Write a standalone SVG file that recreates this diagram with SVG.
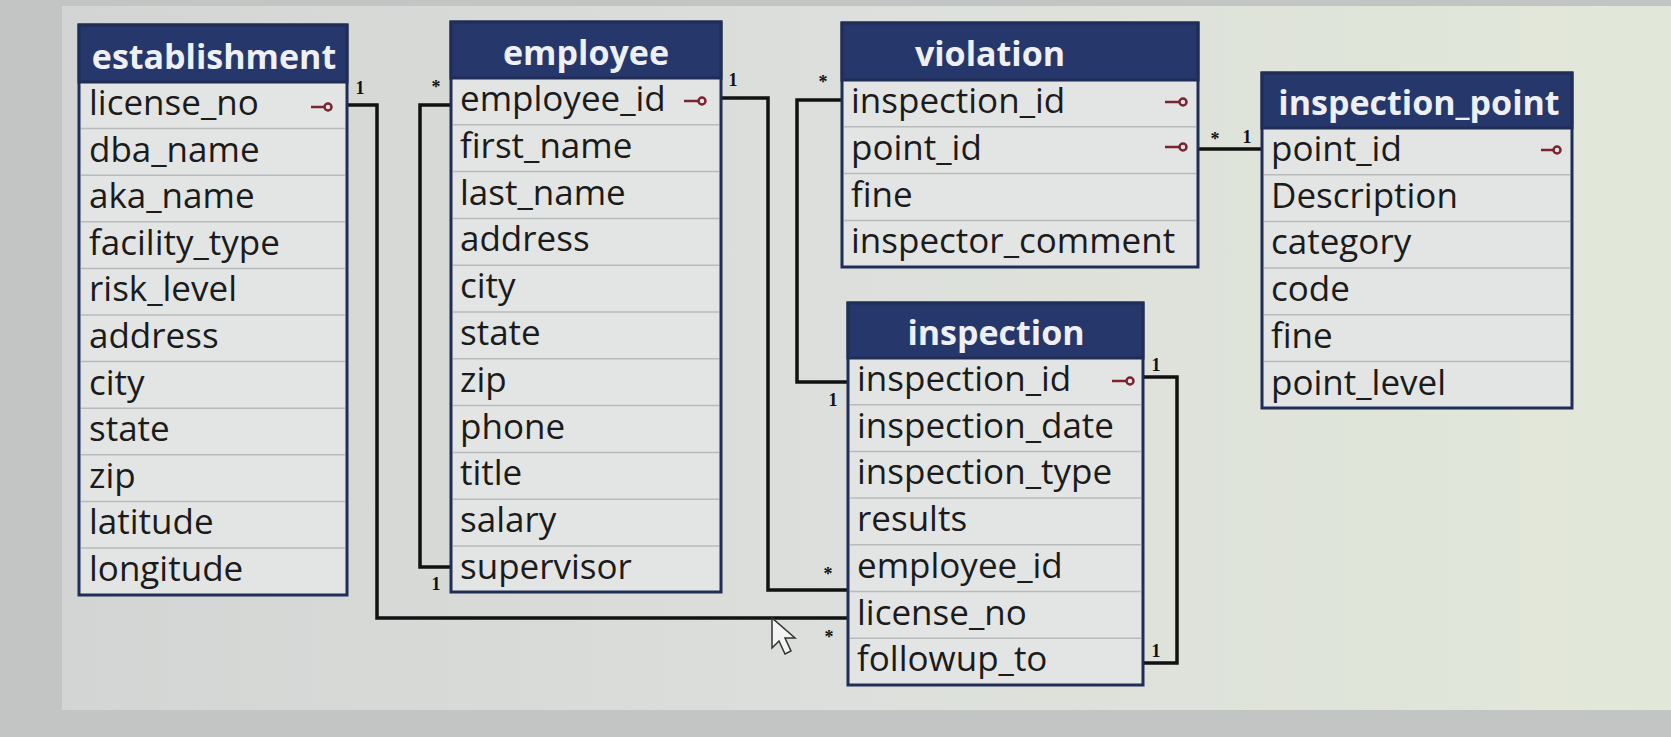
<svg xmlns="http://www.w3.org/2000/svg" width="1671" height="737" viewBox="0 0 1671 737">
<defs>
<linearGradient id="bg" x1="0" y1="0" x2="1" y2="0">
<stop offset="0" stop-color="#d3d5d4"/>
<stop offset="0.5" stop-color="#dcdfdb"/>
<stop offset="1" stop-color="#e2e8d9"/>
</linearGradient>
<style>
.body{fill:#e3e5e4;stroke:#1f2d57;stroke-width:3}
.head{fill:#26376b;stroke:#1f2d57;stroke-width:3}
.ht{font-family:"Open Sans","Noto Sans",sans-serif;font-weight:bold;font-size:34px;fill:#eef0f5;text-anchor:middle}
.rt{font-family:"Open Sans","Noto Sans",sans-serif;font-size:35px;fill:#1b1b1b}
.sep{stroke:#b7bbbb;stroke-width:1.5}
.key{stroke:#7b2331;stroke-width:2.5;fill:none}
.conn{fill:none;stroke:#111;stroke-width:3.5}
.card{font-family:"Liberation Serif",serif;font-weight:bold;font-size:18px;fill:#111;text-anchor:middle}
</style>
</defs>
<rect x="0" y="0" width="1671" height="737" fill="#c3c5c4"/>
<rect x="62" y="6" width="1609" height="704" fill="url(#bg)"/>

<g id="connectors">
<polyline class="conn" points="347,105 377,105 377,618 848,618"/>
<text class="card" x="360" y="94">1</text>
<text class="card" x="829" y="643">*</text>
<polyline class="conn" points="451,105 420,105 420,567 451,567"/>
<text class="card" x="436" y="93">*</text>
<text class="card" x="436" y="590">1</text>
<polyline class="conn" points="721,98 768,98 768,590 848,590"/>
<text class="card" x="733" y="86">1</text>
<text class="card" x="828" y="580">*</text>
<polyline class="conn" points="842,100 797,100 797,382 848,382"/>
<text class="card" x="823" y="88">*</text>
<text class="card" x="833" y="406">1</text>
<line class="conn" x1="1198" y1="149" x2="1262" y2="149"/>
<text class="card" x="1215" y="145">*</text>
<text class="card" x="1247" y="143">1</text>
<polyline class="conn" points="1143,377 1177,377 1177,663 1143,663"/>
<text class="card" x="1156" y="371">1</text>
<text class="card" x="1156" y="657">1</text>
</g>

<g id="establishment">
<rect class="body" x="79" y="25" width="268" height="570"/>
<rect class="head" x="79" y="25" width="268" height="57"/>
<text class="ht" x="214" y="69">establishment</text>
<g class="sep">
<line x1="81" y1="128.6" x2="345" y2="128.6"/><line x1="81" y1="175.2" x2="345" y2="175.2"/><line x1="81" y1="221.8" x2="345" y2="221.8"/><line x1="81" y1="268.4" x2="345" y2="268.4"/><line x1="81" y1="315" x2="345" y2="315"/><line x1="81" y1="361.6" x2="345" y2="361.6"/><line x1="81" y1="408.2" x2="345" y2="408.2"/><line x1="81" y1="454.8" x2="345" y2="454.8"/><line x1="81" y1="501.4" x2="345" y2="501.4"/><line x1="81" y1="548" x2="345" y2="548"/>
</g>
<text class="rt" x="89" y="115">license_no</text>
<text class="rt" x="89" y="161.6">dba_name</text>
<text class="rt" x="89" y="208.2">aka_name</text>
<text class="rt" x="89" y="254.8">facility_type</text>
<text class="rt" x="89" y="301.4">risk_level</text>
<text class="rt" x="89" y="348">address</text>
<text class="rt" x="89" y="394.6">city</text>
<text class="rt" x="89" y="441.2">state</text>
<text class="rt" x="89" y="487.8">zip</text>
<text class="rt" x="89" y="534.4">latitude</text>
<text class="rt" x="89" y="581">longitude</text>
<g class="key"><line x1="311" y1="107" x2="324" y2="107"/><circle cx="328" cy="107" r="3.5"/></g>
</g>

<g id="employee">
<rect class="body" x="451" y="22" width="270" height="570"/>
<rect class="head" x="451" y="22" width="270" height="56"/>
<text class="ht" x="586" y="65">employee</text>
<g class="sep">
<line x1="453" y1="124.8" x2="719" y2="124.8"/><line x1="453" y1="171.6" x2="719" y2="171.6"/><line x1="453" y1="218.4" x2="719" y2="218.4"/><line x1="453" y1="265.2" x2="719" y2="265.2"/><line x1="453" y1="312" x2="719" y2="312"/><line x1="453" y1="358.8" x2="719" y2="358.8"/><line x1="453" y1="405.6" x2="719" y2="405.6"/><line x1="453" y1="452.4" x2="719" y2="452.4"/><line x1="453" y1="499.2" x2="719" y2="499.2"/><line x1="453" y1="546" x2="719" y2="546"/>
</g>
<text class="rt" x="460" y="111">employee_id</text>
<text class="rt" x="460" y="157.8">first_name</text>
<text class="rt" x="460" y="204.6">last_name</text>
<text class="rt" x="460" y="251.4">address</text>
<text class="rt" x="460" y="298.2">city</text>
<text class="rt" x="460" y="345">state</text>
<text class="rt" x="460" y="391.8">zip</text>
<text class="rt" x="460" y="438.6">phone</text>
<text class="rt" x="460" y="485.4">title</text>
<text class="rt" x="460" y="532.2">salary</text>
<text class="rt" x="460" y="579">supervisor</text>
<g class="key"><line x1="684" y1="101" x2="698" y2="101"/><circle cx="702" cy="101" r="3.5"/></g>
</g>

<g id="violation">
<rect class="body" x="842" y="23" width="356" height="244"/>
<rect class="head" x="842" y="23" width="356" height="57"/>
<text class="ht" x="990" y="66">violation</text>
<g class="sep">
<line x1="844" y1="126.8" x2="1196" y2="126.8"/><line x1="844" y1="173.6" x2="1196" y2="173.6"/><line x1="844" y1="220.4" x2="1196" y2="220.4"/>
</g>
<text class="rt" x="851" y="113">inspection_id</text>
<text class="rt" x="851" y="159.8">point_id</text>
<text class="rt" x="851" y="206.6">fine</text>
<text class="rt" x="851" y="253.4">inspector_comment</text>
<g class="key"><line x1="1165" y1="102" x2="1179" y2="102"/><circle cx="1183" cy="102" r="3.5"/><line x1="1165" y1="147" x2="1179" y2="147"/><circle cx="1183" cy="147" r="3.5"/></g>
</g>

<g id="inspection">
<rect class="body" x="848" y="303" width="295" height="382"/>
<rect class="head" x="848" y="303" width="295" height="55"/>
<text class="ht" x="996" y="345">inspection</text>
<g class="sep">
<line x1="850" y1="404.7" x2="1141" y2="404.7"/><line x1="850" y1="451.4" x2="1141" y2="451.4"/><line x1="850" y1="498.1" x2="1141" y2="498.1"/><line x1="850" y1="544.8" x2="1141" y2="544.8"/><line x1="850" y1="591.5" x2="1141" y2="591.5"/><line x1="850" y1="638.2" x2="1141" y2="638.2"/>
</g>
<text class="rt" x="857" y="391">inspection_id</text>
<text class="rt" x="857" y="437.7">inspection_date</text>
<text class="rt" x="857" y="484.4">inspection_type</text>
<text class="rt" x="857" y="531.1">results</text>
<text class="rt" x="857" y="577.8">employee_id</text>
<text class="rt" x="857" y="624.5">license_no</text>
<text class="rt" x="857" y="671.2">followup_to</text>
<g class="key"><line x1="1112" y1="381" x2="1126" y2="381"/><circle cx="1130" cy="381" r="3.5"/></g>
</g>

<g id="inspection_point">
<rect class="body" x="1262" y="73" width="310" height="335"/>
<rect class="head" x="1262" y="73" width="310" height="55"/>
<text class="ht" x="1419" y="115">inspection_point</text>
<g class="sep">
<line x1="1264" y1="174.7" x2="1570" y2="174.7"/><line x1="1264" y1="221.4" x2="1570" y2="221.4"/><line x1="1264" y1="268.1" x2="1570" y2="268.1"/><line x1="1264" y1="314.8" x2="1570" y2="314.8"/><line x1="1264" y1="361.5" x2="1570" y2="361.5"/>
</g>
<text class="rt" x="1271" y="161">point_id</text>
<text class="rt" x="1271" y="207.7">Description</text>
<text class="rt" x="1271" y="254.4">category</text>
<text class="rt" x="1271" y="301.1">code</text>
<text class="rt" x="1271" y="347.8">fine</text>
<text class="rt" x="1271" y="394.5">point_level</text>
<g class="key"><line x1="1541" y1="150" x2="1553" y2="150"/><circle cx="1557" cy="150" r="3.5"/></g>
</g>

<polygon points="772,618 772,648 779,641 785,654 791,651 785,638 795,638" fill="#f4f4f4" stroke="#333" stroke-width="1.5"/>
</svg>
